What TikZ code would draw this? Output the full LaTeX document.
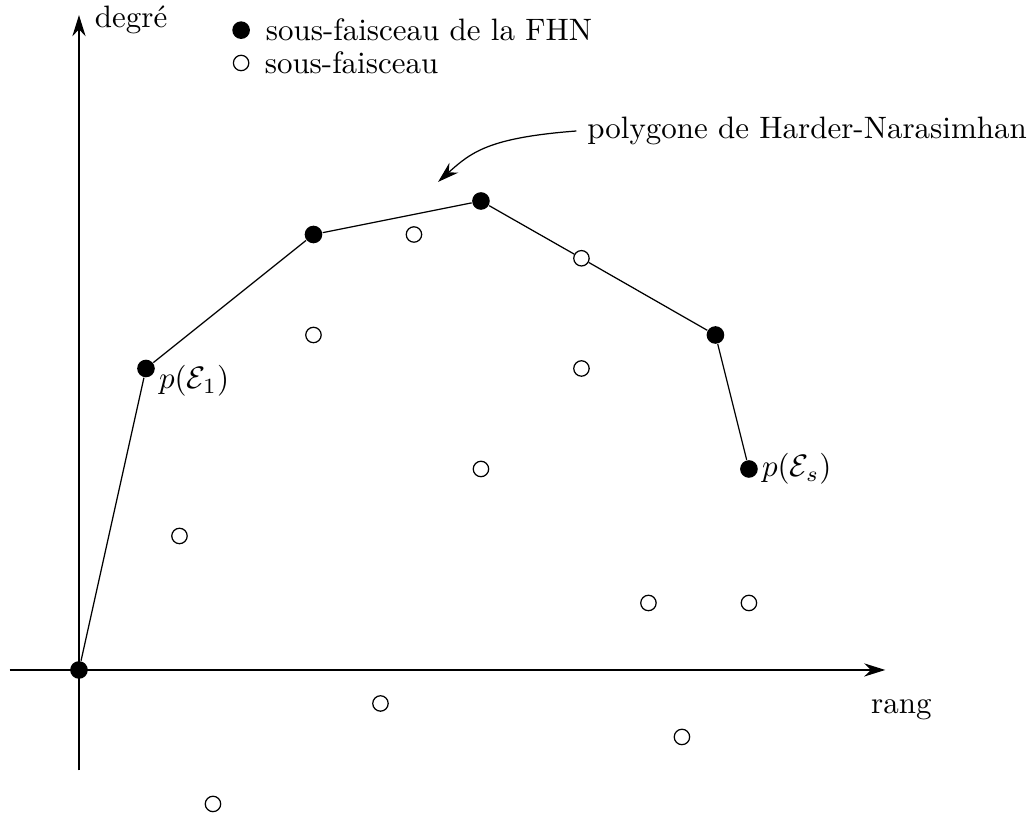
\documentclass[tikz,border=0pt]{standalone}
\usepackage{amsmath,amssymb}
\usetikzlibrary{arrows.meta, positioning}

\tikzset{
  fhn/.style={circle, fill=black, inner sep=0pt, minimum size=2mm},
  sub/.style={circle, draw=black, fill=white, inner sep=0pt, minimum size=1.75mm},
  axis/.style={-{Stealth[length=2.4mm, width=1.5mm]}},
}

\begin{document}
\begin{tikzpicture}[x=0.38cm, y=0.38cm]
  \useasboundingbox (-2.358, -4.328) rectangle (28.48, 20.0);

  % axes
  \coordinate (xa) at (-2.07, 0);
  \coordinate (xb) at (24.07, 0);
  \coordinate (ya) at (0, -3);
  \coordinate (yb) at (0, 19.55);
  \draw[axis] (xa) -- (xb);
  \draw[axis] (ya) -- (yb);
  \node[anchor=west] (deg) at (0.15, 19.4) {degr\'e};
  \node (rang) at (24.55, -1.2) {rang};

  % legend
  \node[fhn] (lf) at (4.84, 19.1) {};
  \node[right=0.5mm of lf] (lft) {sous-faisceau de la FHN};
  \node[sub] (ls) at (4.84, 18.12) {};
  \node[right=0.5mm of ls] (lst) {sous-faisceau};

  % sous-faisceaux
  \foreach \n/\x/\y in {s1/3/4, s2/7/10, s3/10/13, s4/15/12.29, s5/15/9,
                        s6/12/6, s7/17/2, s8/20/2, s9/9/-1, s10/18/-2, s11/4/-4} {
    \node[sub] (\n) at (\x, \y) {};
  }

  % polygone de Harder-Narasimhan
  \node[fhn] (p0) at (0, 0) {};
  \foreach \n/\x/\y in {p1/2/9, p2/7/13, p3/12/14, p4/19/10, p5/20/6} {
    \node[fhn] (\n) at (\x, \y) {};
  }
  \draw (p0) -- (p1) -- (p2) -- (p3) -- (s4) -- (p4) -- (p5);

  \node[anchor=west, inner sep=1pt] (e1) at ([yshift=-1.4mm]p1.east) {$p(\mathcal{E}_1)$};
  \node[anchor=west, inner sep=1pt] (es) at (p5.east) {$p(\mathcal{E}_s)$};

  % label
  \node[anchor=west] (hn) at (14.85, 16.09) {polygone de Harder-Narasimhan};
  \coordinate (hnend) at (10.72, 14.57);
  \draw[-{Stealth[length=2.4mm, width=1.5mm]}] (hn.west)
    .. controls +(-2.6,-0.2) and +(1,0.9) .. (hnend);
\end{tikzpicture}
\end{document}
